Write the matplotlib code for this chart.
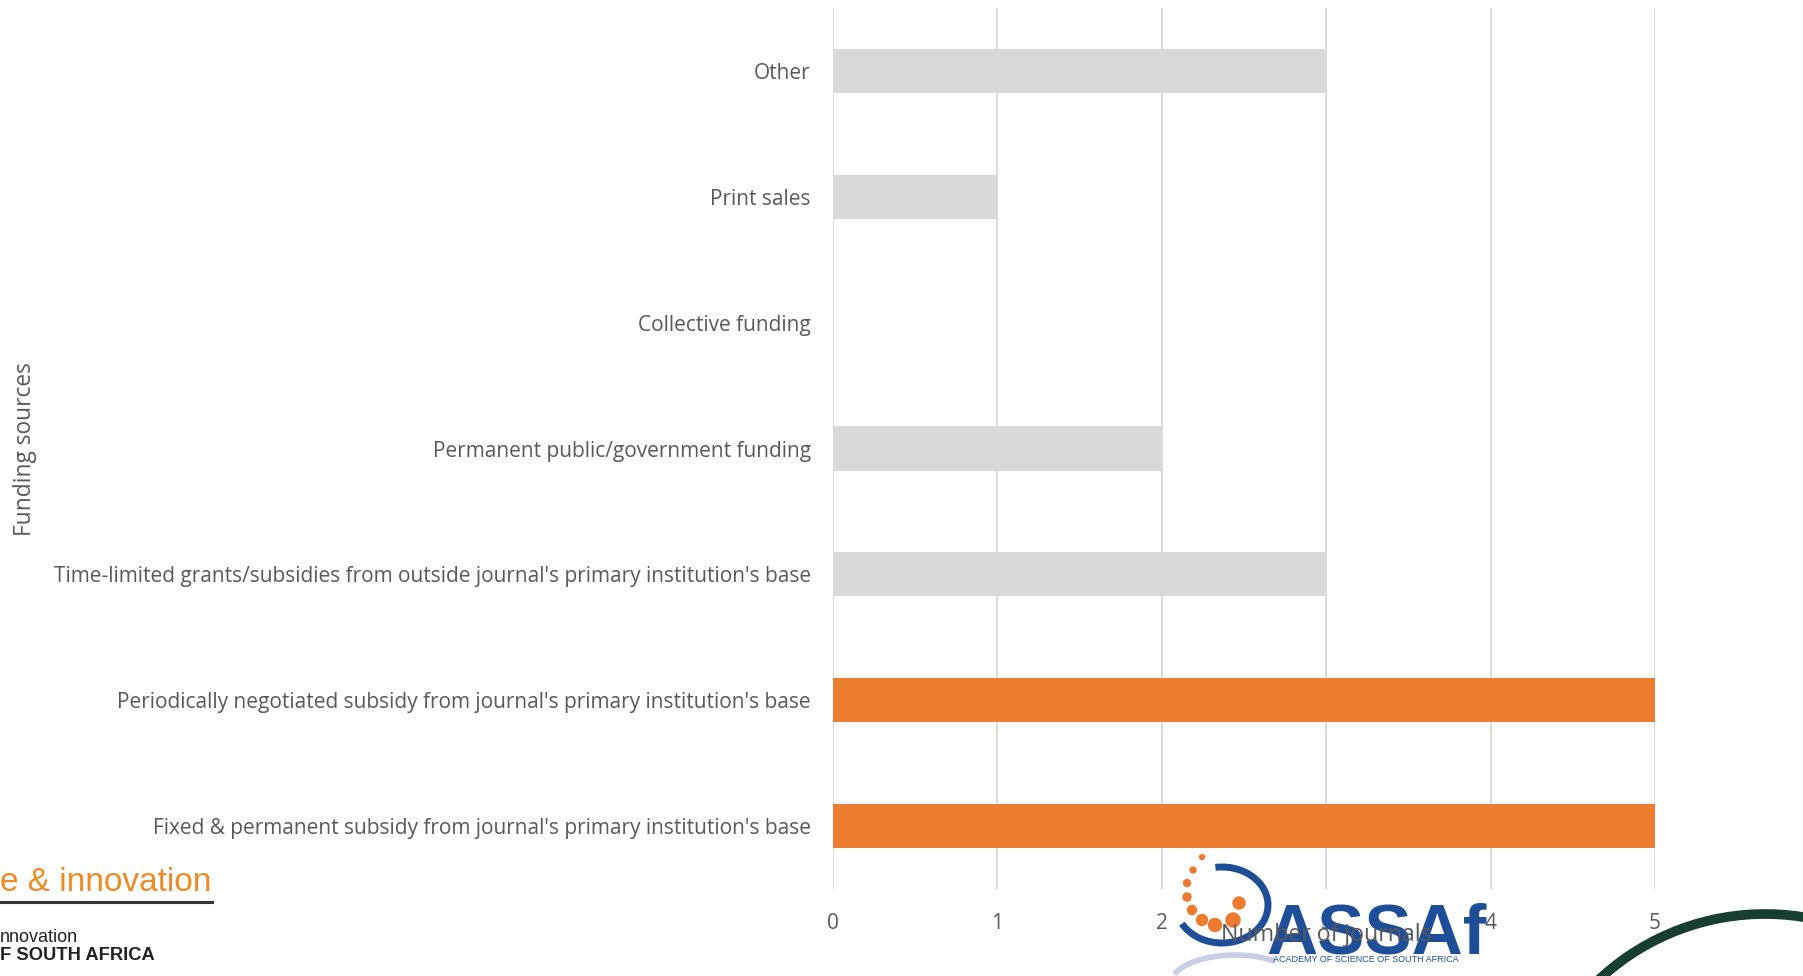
import matplotlib
matplotlib.use("Agg")
import matplotlib.pyplot as plt
from matplotlib.patches import Arc, Circle

# Funding sources (bottom to top) and number of journals
categories = [
    "Fixed & permanent subsidy from journal's primary institution's base",
    "Periodically negotiated subsidy from journal's primary institution's base",
    "Time-limited grants/subsidies from outside journal's primary institution's base",
    "Permanent public/government funding",
    "Collective funding",
    "Print sales",
    "Other",
]
journals = [5, 5, 3, 2, 0, 1, 3]
highlight = [True, True, False, False, False, False, False]
x_ticks = [0, 1, 2, 3, 4, 5]

ORANGE = "#ED7D31"
GREY_BAR = "#D9D9D9"
GRID = "#D9D9D9"
TEXT = "#595959"

W, H = 1803, 976
fig = plt.figure(figsize=(W / 100, H / 100), dpi=100)
fig.patch.set_facecolor("white")

ax = fig.add_axes([833 / W, 1 - 889 / H, (1655 - 833) / W, (889 - 8) / H])
colors = [ORANGE if h else GREY_BAR for h in highlight]
ax.barh(range(len(categories)), journals, height=0.35, color=colors, zorder=3)

ax.set_xlim(0, 5)
ax.set_ylim(-0.5, len(categories) - 0.5)
ax.set_xticks(x_ticks)
ax.set_xticklabels([str(t) for t in x_ticks])
ax.set_yticks(range(len(categories)))
ax.set_yticklabels(categories)
ax.grid(axis="x", color=GRID, linewidth=1.3, zorder=0)
ax.set_axisbelow(True)
for s in ax.spines.values():
    s.set_visible(False)
ax.tick_params(axis="both", length=0, colors=TEXT, labelsize=15)
ax.tick_params(axis="y", pad=16)
ax.tick_params(axis="x", pad=17)
for lbl in ax.get_xticklabels() + ax.get_yticklabels():
    lbl.set_fontfamily("Open Sans")

# axis titles
fig.text(25 / W, 1 - 449 / H, "Funding sources", rotation=90, ha="center", va="center",
         fontsize=16.4, color=TEXT, family="Open Sans")

# branding elements along the bottom
fig.text(0, 1 - 891 / H, "e & innovation", ha="left", va="baseline", fontsize=24,
         color="#F08A24", family="Liberation Sans")
fig.add_artist(plt.Line2D([0, 212 / W], [1 - 902 / H, 1 - 902 / H], color="#333333",
                          linewidth=2.2, transform=fig.transFigure))
fig.text(0, 1 - 938 / H, "nnovation", ha="left", va="center", fontsize=13,
         color="#222222", family="Liberation Sans")
fig.text(0, 1 - 956 / H, "F SOUTH AFRICA", ha="left", va="center", fontsize=13.2,
         color="#222222", family="Liberation Sans", weight="bold")

# ASSAf mark and corner arc, drawn in pixel coordinates
lax = fig.add_axes([0, 0, 1, 1], zorder=5)
lax.set_xlim(0, W)
lax.set_ylim(H, 0)
lax.axis("off")
lax.add_patch(Arc((1222, 905), 92, 76, theta1=-100, theta2=155, color="#1F4E99",
                  linewidth=5))
lax.add_patch(Arc((1235, 985), 130, 60, theta1=190, theta2=330, color="#C9CDE6",
                  linewidth=4))
dots = [(1202, 857, 2.5), (1193, 870, 3), (1187, 883, 3.5), (1187, 897, 4),
        (1192, 910, 4.5), (1202, 920, 5.5), (1215, 925, 6.5), (1233, 920, 7),
        (1239, 903, 6)]
for dx, dy, r in dots:
    lax.add_patch(Circle((dx, dy), r, color="#EE7A2D"))
lax.text(1376, 953, "ASSAf", ha="center", va="baseline", fontsize=51, color="#1F4E99",
         family="Liberation Sans", weight="bold")
lax.text(1366, 960, "ACADEMY OF SCIENCE OF SOUTH AFRICA", ha="center", va="center",
         fontsize=6.5, color="#1F4E99", family="Liberation Sans")
lax.add_patch(Arc((1765, 1157), 486, 486, theta1=215, theta2=300, color="#163F31",
                  linewidth=7))

fig.text(1326 / W, 1 - 935 / H, "Number of journals", ha="center", va="center",
         fontsize=16.7, color=TEXT, family="Open Sans", zorder=10)

fig.savefig("out.png", dpi=100, facecolor="white")
